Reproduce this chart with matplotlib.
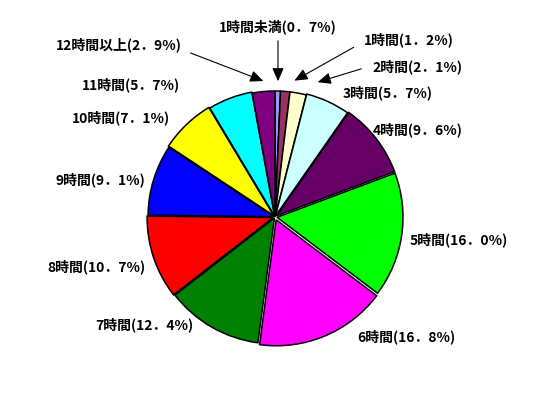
import matplotlib
matplotlib.use("Agg")
import matplotlib.pyplot as plt

plt.rcParams['font.family'] = ['Noto Sans CJK JP', 'DejaVu Sans']

# data
labels = ["1時間未満", "1時間", "2時間", "3時間", "4時間", "5時間", "6時間",
          "7時間", "8時間", "9時間", "10時間", "11時間", "12時間以上"]
shares = [0.7, 1.2, 2.1, 5.7, 9.6, 16.0, 16.8, 12.4, 10.7, 9.1, 7.1, 5.7, 2.9]
colors = ["#9999ff", "#993366", "#ffffcc", "#ccffff", "#660066", "#00ff00",
          "#ff00ff", "#008000", "#ff0000", "#0000ff", "#ffff00", "#00ffff",
          "#800080"]
# offsets in pixels (axes are laid out in pixel units)
explode = [0, 0, 0, 1, 2, 2, 3, 1, 2, 1, 2, 1, 0]

# label positions in pixel coords (x, y from top), alignment
label_pos = [
    (278, 27, "center"), (364, 40, "left"), (372, 67, "left"),
    (343, 93, "left"), (373, 130, "left"), (410, 240, "left"),
    (357, 337, "left"), (193, 325, "right"), (145, 267, "right"),
    (145, 180, "right"), (170, 118, "right"), (180, 85, "right"),
    (182, 45, "right"),
]
# arrows for the small slices: (start, end)
arrows = {
    0: ((278, 38), (278, 84)),
    1: ((356, 46), (292, 82)),
    2: ((364, 68), (315, 83)),
    12: ((188, 52), (266, 82)),
}

fig = plt.figure(figsize=(5.5, 4), dpi=100)
ax = fig.add_axes([0, 0, 1, 1])

ax.pie(shares, colors=colors, startangle=90, counterclock=False,
       center=(275, 400 - 217), radius=126, explode=explode,
       wedgeprops=dict(edgecolor="black", linewidth=1.1))
ax.set_xlim(0, 550)
ax.set_ylim(0, 400)
ax.set_aspect("equal")
ax.axis("off")

for i, (lab, val) in enumerate(zip(labels, shares)):
    x, y, ha = label_pos[i]
    txt = f"{lab}({val:.1f}%)".replace(".", "．")
    ax.text(x, 400 - y, txt, ha=ha, va="center", fontsize=10,
            fontweight="bold", color="black")

for i, (p0, p1) in arrows.items():
    ax.annotate("", xy=(p1[0], 400 - p1[1]), xytext=(p0[0], 400 - p0[1]),
                arrowprops=dict(arrowstyle="-|>,head_length=0.8,head_width=0.35",
                                color="black", lw=0.8))

fig.savefig("out.png", dpi=100, facecolor="white")
